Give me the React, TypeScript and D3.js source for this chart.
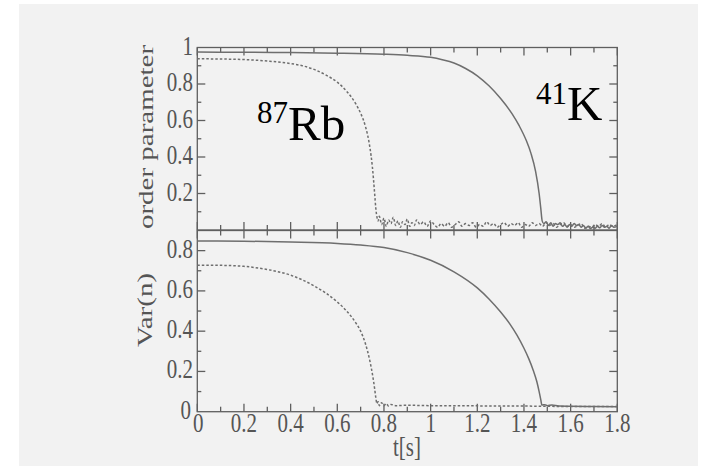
import React from "react";
import * as d3 from "d3";

// Time axis ticks and panel ticks
const xMajorTicks = [0, 0.2, 0.4, 0.6, 0.8, 1, 1.2, 1.4, 1.6, 1.8];
const xTickLabels = ["0", "0.2", "0.4", "0.6", "0.8", "1", "1.2", "1.4", "1.6", "1.8"];
const topYTicks = [0.2, 0.4, 0.6, 0.8, 1];
const topYLabels = ["0.2", "0.4", "0.6", "0.8", "1"];
const bottomYTicks = [0, 0.2, 0.4, 0.6, 0.8];
const bottomYLabels = ["0", "0.2", "0.4", "0.6", "0.8"];

// Order parameter, 87Rb (dotted)
const rbOrderT = [
  0, 0.1, 0.2, 0.3, 0.4, 0.45, 0.5, 0.55, 0.6, 0.64, 0.68, 0.7, 0.72, 0.73, 0.74, 0.75, 0.755, 0.76, 0.765, 0.77,
  0.775, 0.78, 0.79, 0.8, 0.81, 0.82, 0.83, 0.84, 0.85, 0.86, 0.87, 0.88, 0.89, 0.9, 0.91, 0.92, 0.93, 0.94,
  0.955, 0.97, 0.985, 1.0, 1.015, 1.03, 1.045, 1.06, 1.075, 1.09, 1.105, 1.12, 1.135, 1.15, 1.165, 1.18, 1.195,
  1.21, 1.225, 1.24, 1.255, 1.27, 1.285, 1.3, 1.315, 1.33, 1.345, 1.36, 1.375, 1.39, 1.405, 1.42, 1.435, 1.45,
  1.465, 1.48, 1.495, 1.51, 1.525, 1.54, 1.555, 1.57, 1.585, 1.6, 1.615, 1.63, 1.645, 1.66, 1.675, 1.69, 1.705,
  1.72, 1.735, 1.75, 1.765, 1.78, 1.8,
];
const rbOrderV = [
  0.938, 0.937, 0.934, 0.926, 0.912, 0.9, 0.88, 0.85, 0.81, 0.76, 0.69, 0.64, 0.57, 0.52, 0.45, 0.35, 0.28, 0.2, 0.12, 0.07,
  0.05, 0.075, 0.03, 0.065, 0.02, 0.055, 0.035, 0.07, 0.025, 0.05, 0.015, 0.045, 0.03, 0.06, 0.02, 0.04, 0.025, 0.055,
  0.03, 0.045, 0.02, 0.05, 0.03, 0.015, 0.035, 0.02, 0.04, 0.015, 0.03, 0.045, 0.02, 0.035, 0.025, 0.04, 0.015,
  0.03, 0.02, 0.045, 0.025, 0.035, 0.015, 0.03, 0.04, 0.02, 0.035, 0.025, 0.04, 0.015, 0.03, 0.02, 0.04, 0.025,
  0.035, 0.02, 0.04, 0.025, 0.035, 0.015, 0.03, 0.04, 0.02, 0.03, 0.015, 0.025, 0.035, 0.01, 0.02, 0.015, 0.03,
  0.02, 0.035, 0.015, 0.03, 0.02, 0.03,
];

// Order parameter, 41K (solid)
const kOrderT = [
  0, 0.2, 0.4, 0.6, 0.8, 0.9, 1.0, 1.05, 1.1, 1.15, 1.2, 1.25, 1.3, 1.35, 1.38, 1.41, 1.43, 1.45, 1.465, 1.472, 1.478,
  1.485, 1.495, 1.505, 1.515, 1.525, 1.535, 1.545, 1.555, 1.565, 1.575, 1.585, 1.595, 1.605, 1.615, 1.625, 1.635,
  1.645, 1.655, 1.665, 1.675, 1.685, 1.695, 1.705, 1.715, 1.725, 1.735, 1.745, 1.755, 1.765, 1.775, 1.785, 1.8,
];
const kOrderV = [
  0.975, 0.974, 0.972, 0.969, 0.963, 0.957, 0.946, 0.933, 0.915, 0.885, 0.845, 0.79, 0.72, 0.635, 0.57, 0.49, 0.42, 0.32, 0.2, 0.12, 0.05,
  0.035, 0.045, 0.025, 0.04, 0.02, 0.035, 0.03, 0.04, 0.02, 0.03, 0.015, 0.03, 0.02, 0.035, 0.025, 0.03,
  0.015, 0.025, 0.01, 0.02, 0.008, 0.015, 0.01, 0.02, 0.012, 0.025, 0.015, 0.02, 0.01, 0.025, 0.015, 0.02,
];

// Variance of the occupation number, 87Rb (dotted)
const rbVarT = [
  0, 0.1, 0.2, 0.3, 0.4, 0.45, 0.5, 0.55, 0.6, 0.64, 0.68, 0.7, 0.72, 0.74, 0.75, 0.76, 0.765, 0.77, 0.775, 0.78,
  0.79, 0.8, 0.81, 0.82, 0.83, 0.85, 0.9, 1.0, 1.1, 1.2, 1.3, 1.4, 1.48, 1.6, 1.8,
];
const rbVarV = [
  0.728, 0.727, 0.722, 0.706, 0.678, 0.655, 0.625, 0.59, 0.545, 0.5, 0.44, 0.4, 0.34, 0.25, 0.19, 0.115, 0.07, 0.04, 0.05, 0.03,
  0.045, 0.03, 0.04, 0.028, 0.036, 0.03, 0.032, 0.03, 0.03, 0.029, 0.028, 0.028, 0.027, 0.026, 0.026,
];

// Variance of the occupation number, 41K (solid)
const kVarT = [
  0, 0.2, 0.4, 0.6, 0.7, 0.8, 0.9, 1.0, 1.1, 1.2, 1.25, 1.3, 1.34, 1.37, 1.4, 1.42, 1.44, 1.455, 1.465, 1.472, 1.477,
  1.49, 1.5, 1.52, 1.55, 1.6, 1.7, 1.8,
];
const kVarV = [
  0.848, 0.847, 0.843, 0.836, 0.828, 0.815, 0.79, 0.752, 0.695, 0.615, 0.56, 0.495, 0.435, 0.38, 0.315, 0.265, 0.205, 0.15, 0.1, 0.06, 0.033,
  0.035, 0.03, 0.033, 0.028, 0.027, 0.026, 0.025,
];

const W = 727;
const H = 466;
const X0 = 197.3;
const X1 = 617.3;
const TOP_Y0 = 230;
const TOP_Y1 = 47.5;
const BOT_Y0 = 411.7;
const BOT_Y1 = 230.5;

const AXIS = "#5f5f5f";
const LABEL = "#555555";
const CURVE = "#6e6e6e";
const FONT = "'Liberation Serif', 'Times New Roman', serif";

const x = d3.scaleLinear().domain([0, 1.8]).range([X0, X1]);
const yTop = d3.scaleLinear().domain([0, 1]).range([TOP_Y0, TOP_Y1]);
const yBot = d3.scaleLinear().domain([0, 0.9]).range([BOT_Y0, BOT_Y1]);

const zip = (t: number[], v: number[]) => t.map((ti, i) => [ti, v[i]] as [number, number]);

function Panel({ y, yMax }: { y: d3.ScaleLinear<number, number>; yMax: number }) {
  const [yb, yt] = y.range();
  const xMinor = d3.range(0.1, 1.8, 0.2);
  const yMinor = d3.range(0.1, yMax, 0.2);
  const yAll = d3.range(0.2, yMax + 0.001, 0.2).filter((v) => v < yMax - 0.001);
  const marks: React.ReactNode[] = [];
  xMajorTicks.forEach((t, i) => {
    marks.push(<line key={`xb${i}`} x1={x(t)} x2={x(t)} y1={yb} y2={yb - 8} />);
    marks.push(<line key={`xt${i}`} x1={x(t)} x2={x(t)} y1={yt} y2={yt + 8} />);
  });
  xMinor.forEach((t, i) => {
    marks.push(<line key={`xbm${i}`} x1={x(t)} x2={x(t)} y1={yb} y2={yb - 5} />);
    marks.push(<line key={`xtm${i}`} x1={x(t)} x2={x(t)} y1={yt} y2={yt + 5} />);
  });
  yAll.forEach((v, i) => {
    marks.push(<line key={`yl${i}`} x1={X0} x2={X0 + 8} y1={y(v)} y2={y(v)} />);
    marks.push(<line key={`yr${i}`} x1={X1} x2={X1 - 8} y1={y(v)} y2={y(v)} />);
  });
  yMinor.forEach((v, i) => {
    marks.push(<line key={`ylm${i}`} x1={X0} x2={X0 + 4} y1={y(v)} y2={y(v)} />);
    marks.push(<line key={`yrm${i}`} x1={X1} x2={X1 - 4} y1={y(v)} y2={y(v)} />);
  });
  return (
    <g stroke={AXIS} strokeWidth={1.3} fill="none">
      <rect x={X0} y={yt} width={X1 - X0} height={yb - yt} />
      {marks}
    </g>
  );
}

export default function App() {
  const lineTop = d3
    .line<[number, number]>()
    .x((d) => x(d[0]))
    .y((d) => yTop(d[1]))
    .curve(d3.curveMonotoneX);
  const lineBot = d3
    .line<[number, number]>()
    .x((d) => x(d[0]))
    .y((d) => yBot(d[1]))
    .curve(d3.curveMonotoneX);

  const tickText = (label: string, tx: number, ty: number, anchor: "end" | "middle", key: string) => (
    <text
      key={key}
      transform={`translate(${tx},${ty}) scale(1,1.25)`}
      textAnchor={anchor}
      fontSize={21}
      fill={LABEL}
      fontFamily={FONT}
    >
      {label}
    </text>
  );

  return (
    <svg width={W} height={H} style={{ display: "block", position: "absolute", left: 0, top: 0 }}>
      <rect x={0} y={0} width={W} height={H} fill="#ffffff" />
      <rect x={19} y={4} width={679} height={H - 4} fill="#f2f2f2" />

      <Panel y={yTop} yMax={1} />
      <Panel y={yBot} yMax={0.9} />

      {/* curves */}
      <path d={lineTop(zip(rbOrderT, rbOrderV)) || ""} fill="none" stroke={CURVE} strokeWidth={1.5} strokeDasharray="2.5,2" />
      <path d={lineTop(zip(kOrderT, kOrderV)) || ""} fill="none" stroke={CURVE} strokeWidth={1.5} />
      <path d={lineBot(zip(rbVarT, rbVarV)) || ""} fill="none" stroke={CURVE} strokeWidth={1.5} strokeDasharray="2.5,2" />
      <path d={lineBot(zip(kVarT, kVarV)) || ""} fill="none" stroke={CURVE} strokeWidth={1.5} />

      {/* y tick labels */}
      {topYTicks.map((v, i) => tickText(topYLabels[i], 193, yTop(v) + 7, "end", `ty${i}`))}
      {bottomYTicks.map((v, i) => tickText(bottomYLabels[i], v === 0 ? 191 : 193, yBot(v) + 7, "end", `by${i}`))}

      {/* x tick labels */}
      {xMajorTicks.map((t, i) => tickText(xTickLabels[i], x(t) + (i === 0 ? 1 : 0), 432, "middle", `tx${i}`))}

      {/* axis titles */}
      <text
        transform={`translate(153,137) rotate(-90) scale(1.45,1)`}
        textAnchor="middle"
        fontSize={20}
        fill={LABEL}
        fontFamily={FONT}
      >
        order parameter
      </text>
      <text
        transform={`translate(152,310) rotate(-90) scale(1.45,1)`}
        textAnchor="middle"
        fontSize={20}
        fill={LABEL}
        fontFamily={FONT}
      >
        Var(n)
      </text>
      <text
        transform={`translate(407,456) scale(1,1.25)`}
        textAnchor="middle"
        fontSize={21}
        fill={LABEL}
        fontFamily={FONT}
      >
        t[s]
      </text>

      {/* species labels */}
      <text x={257} y={140} fontFamily={FONT} fill="#000">
        <tspan fontSize={31} dy={-17}>87</tspan>
        <tspan fontSize={49} dy={17}>Rb</tspan>
      </text>
      <text x={536} y={120} fontFamily={FONT} fill="#000">
        <tspan fontSize={31} dy={-16}>41</tspan>
        <tspan fontSize={49} dy={16}>K</tspan>
      </text>
    </svg>
  );
}
